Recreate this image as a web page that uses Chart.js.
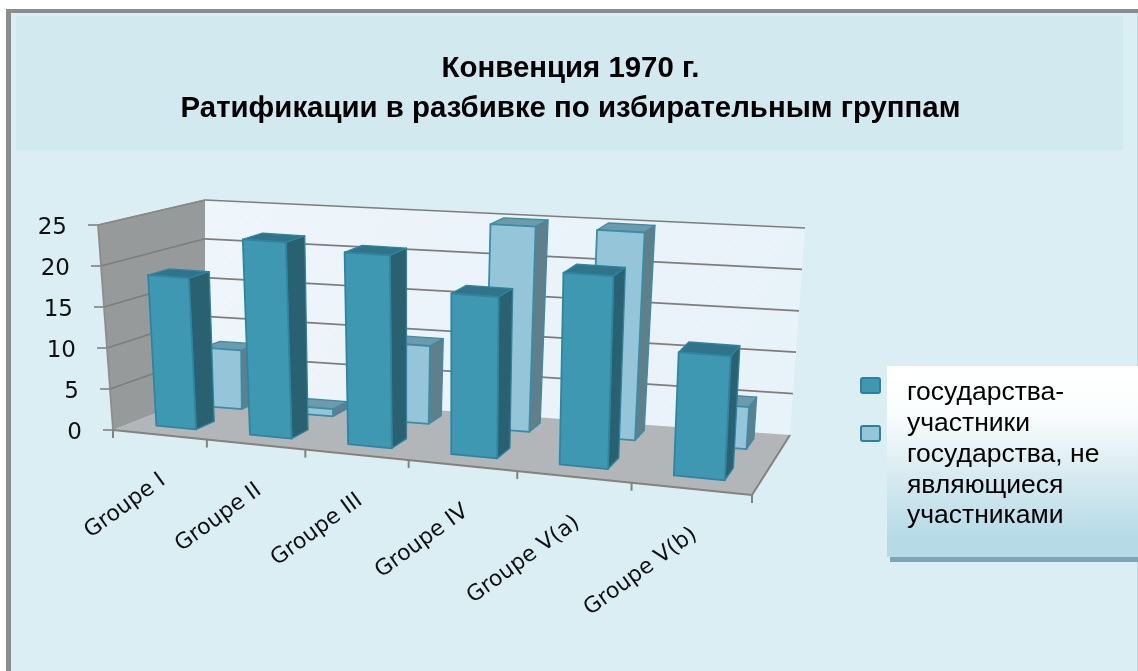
<!DOCTYPE html>
<html><head><meta charset="utf-8">
<style>html,body{margin:0;padding:0;background:#fff}#w{width:1138px;height:671px}canvas{display:block}</style>
<script src="https://cdn.jsdelivr.net/npm/chart.js@4"></script>
</head><body><div id="w"><canvas id="c" width="1138" height="671"></canvas></div>
<script>
const categories = ['Groupe I','Groupe II','Groupe III','Groupe IV','Groupe V(a)','Groupe V(b)'];
const parties = [18.5,23.7,23,19,22.4,14.2];
const nonParties = [7.4,0.9,9.6,25,25,5];
const seriesNames = ['государства-участники','государства, не являющиеся участниками'];
const legendLines = ['государства-','участники','государства, не','являющиеся','участниками'];
const titleLines = ['Конвенция 1970 г.','Ратификации в разбивке по избирательным группам'];
const yTicks = [0,5,10,15,20,25];

// view geometry of the box in which the flat scales are projected
const floorQ = {A:[113,430],B:[752,495],D:[790,435],C:[205,394]};
const topQ   = {A:[98,225],B:[763,273],D:[805,228],C:[205,200]};
const rowDepth = [[.72,.9],[.19,.40]]; // drawn order: back row, front row
const warp = u => .861*u/(1-.139*u);

function quadMap(q){
  return (u,w)=>{
    const s=warp(u);
    const fx=q.A[0]+(q.B[0]-q.A[0])*s, fy=q.A[1]+(q.B[1]-q.A[1])*s;
    const bx=q.C[0]+(q.D[0]-q.C[0])*s, by=q.C[1]+(q.D[1]-q.C[1])*s;
    return [fx+(bx-fx)*w, fy+(by-fy)*w];
  };
}
const mapFloor=quadMap(floorQ),mapTop=quadMap(topQ);
function P(u,v,w){const f=mapFloor(u,w),t=mapTop(u,w);return [f[0]+(t[0]-f[0])*v,f[1]+(t[1]-f[1])*v];}
function poly(ctx,pts,fill,stroke,lw){
  ctx.beginPath();pts.forEach((p,i)=>i?ctx.lineTo(p[0],p[1]):ctx.moveTo(p[0],p[1]));ctx.closePath();
  if(fill){ctx.fillStyle=fill;ctx.fill();}
  if(stroke){ctx.strokeStyle=stroke;ctx.lineWidth=lw||1;ctx.lineJoin='round';ctx.stroke();}
}
function seg(ctx,a,b,c,lw){ctx.beginPath();ctx.moveTo(a[0],a[1]);ctx.lineTo(b[0],b[1]);ctx.strokeStyle=c;ctx.lineWidth=lw;ctx.stroke();}
const looks=[
 {front:'#95C5D9',side:'#5F7F8B',top:'#6E9BAC',edge:'#3C8CA6'},
 {front:'#3F98B2',side:'#296171',top:'#2F7488',edge:'#2F85A0'}
];
const scene={
  id:'scene',
  afterLayout(chart){
    chart.titleBlock.left=3;chart.titleBlock.right=1138;
  },
  beforeDraw(chart){
    const {ctx,width,height}=chart;
    ctx.save();
    ctx.fillStyle='#fff';ctx.fillRect(0,0,width,height);
    ctx.fillStyle='#8C8C8C';ctx.fillRect(6,9,width-6,height-9);
    ctx.fillStyle='#DBEEF4';ctx.fillRect(11,13,width-11,height-13);
    ctx.fillStyle='#BFD6DE';ctx.fillRect(width-1,13,1,height-13);
    ctx.fillStyle='#D3E9F0';ctx.fillRect(16,16,1107,134);
    ctx.restore();
    const xs=chart.scales.x,ys=chart.scales.y,a=chart.chartArea;
    xs.getLabelItems().forEach((it,i)=>{
      if(it._placed)return;it._placed=true;
      const p=P((xs.getPixelForTick(i)-a.left)/(a.right-a.left),0,0);
      it.options.translation=[p[0]-4,p[1]+33];
      it.options.textAlign='right';it.options.textBaseline='middle';
    });
    ys.getLabelItems().forEach((it,i)=>{
      if(it._placed)return;it._placed=true;
      const v=ys.getValueForPixel(it.options.translation[1]);
      const p=P(0,v/25,0);
      it.options.translation=[p[0]-31,it.options.translation[1]+3];
      it.options.textAlign='right';
    });
  },
  beforeDatasetsDraw(chart){
    const {ctx,chartArea:a}=chart;
    const W=a.right-a.left,H=a.bottom-a.top;
    const ys=chart.scales.y;
    ctx.save();
    poly(ctx,[P(0,0,0),P(0,1,0),P(0,1,1),P(0,0,1)],'#979A9B');
    const g=ctx.createLinearGradient(205,200,790,435);
    g.addColorStop(0,'#EEF5FB');g.addColorStop(1,'#E8F2F9');
    poly(ctx,[P(0,0,1),P(0,1,1),P(1,1,1),P(1,0,1)],g);
    poly(ctx,[P(0,0,0),P(1,0,0),P(1,0,1),P(0,0,1)],'#B3B6B9');
    yTicks.forEach(t=>{
      const v=(a.bottom-ys.getPixelForValue(t))/H;
      if(t>0){seg(ctx,P(0,v,0),P(0,v,1),'#7F7D7B',1.7);}
      if(t>0){seg(ctx,P(0,v,1),P(1,v,1),'#7F7D7B',1.7);}
      const p=P(0,v,0);seg(ctx,[p[0]-10,p[1]],p,'#8E8C8A',1.8);
    });
    seg(ctx,P(0,0,0),P(0,1,0),'#8E8C8A',1.8);
    seg(ctx,P(0,0,0),P(1,0,0),'#84827F',2);
    seg(ctx,P(1,0,0),P(1,0,1),'#84827F',2);
    seg(ctx,P(0,1,0),P(0,1,1),'#8E8C8A',1);
    for(let i=0;i<=categories.length;i++){
      const p=P(i/categories.length,0,0);
      seg(ctx,p,[p[0],p[1]+8],'#84827F',2);
    }
    [1,0].forEach((ds,row)=>{
      const meta=chart.getDatasetMeta(ds),look=looks[row],[w0,w1]=rowDepth[row];
      meta.data.forEach(el=>{
        const u0=(el.x-el.width/2-a.left)/W,u1=(el.x+el.width/2-a.left)/W;
        const vb=(a.bottom-el.base)/H,vt=(a.bottom-el.y)/H;
        poly(ctx,[P(u0,vt,w0),P(u1,vt,w0),P(u1,vt,w1),P(u0,vt,w1)],look.top,look.edge,1.3);
        poly(ctx,[P(u1,vb,w0),P(u1,vt,w0),P(u1,vt,w1),P(u1,vb,w1)],look.side,look.edge,1.3);
        poly(ctx,[P(u0,vb,w0),P(u0,vt,w0),P(u1,vt,w0),P(u1,vb,w0)],look.front,look.edge,1.8);
      });
    });
    ctx.restore();
    return false;
  },
  afterDraw(chart){
    const {ctx}=chart;
    ctx.save();
    ctx.fillStyle='#7FA5B4';ctx.fillRect(890,556,248,6);
    const g=ctx.createLinearGradient(0,366,0,557);
    g.addColorStop(0,'#FFFFFF');g.addColorStop(.25,'#FAFDFD');g.addColorStop(.6,'#D5E9F0');g.addColorStop(.9,'#B6DBE7');g.addColorStop(1,'#B6DBE7');
    ctx.fillStyle=g;ctx.fillRect(887,366,251,191);
    [[861,378],[861,426]].forEach((s,i)=>{
      ctx.beginPath();ctx.roundRect(s[0],s[1],19,15,2);
      ctx.fillStyle=chart.data.datasets[i].backgroundColor;ctx.fill();
      ctx.strokeStyle='#2F7F98';ctx.lineWidth=2;ctx.stroke();
    });
    ctx.fillStyle='#000';ctx.font='26.5px "Liberation Sans"';ctx.textAlign='left';ctx.textBaseline='alphabetic';
    [400,431,462,493,523].forEach((y,i)=>ctx.fillText(legendLines[i],907,y));
    ctx.restore();
  }
};
new Chart(document.getElementById('c'),{
  type:'bar',
  data:{labels:categories,datasets:[
    {label:seriesNames[0],data:parties,backgroundColor:'#3F98B2',grouped:false,barPercentage:.43,categoryPercentage:1},
    {label:seriesNames[1],data:nonParties,backgroundColor:'#95C5D9',grouped:false,barPercentage:.43,categoryPercentage:1}
  ]},
  options:{
    responsive:false,animation:false,
    layout:{padding:{left:0,right:386,top:0,bottom:1}},
    plugins:{
      legend:{display:false},tooltip:{enabled:false},
      title:{display:true,text:titleLines,color:'#000',
        font:{family:'"Liberation Sans"',size:29.4,weight:'bold',lineHeight:1.36},
        padding:{top:49,bottom:96}}
    },
    scales:{
      x:{type:'category',grid:{display:false},border:{display:false},
        afterFit(s){s.height=240;},
        ticks:{autoSkip:false,minRotation:36,maxRotation:36,color:'#111',font:{family:'"DejaVu Sans"',size:22}}},
      y:{min:0,max:25,grid:{display:false},border:{display:false},
        afterFit(s){s.width=113;},
        ticks:{stepSize:5,color:'#111',font:{family:'"DejaVu Sans"',size:23}}}
    }
  },
  plugins:[scene]
});
</script></body></html>
